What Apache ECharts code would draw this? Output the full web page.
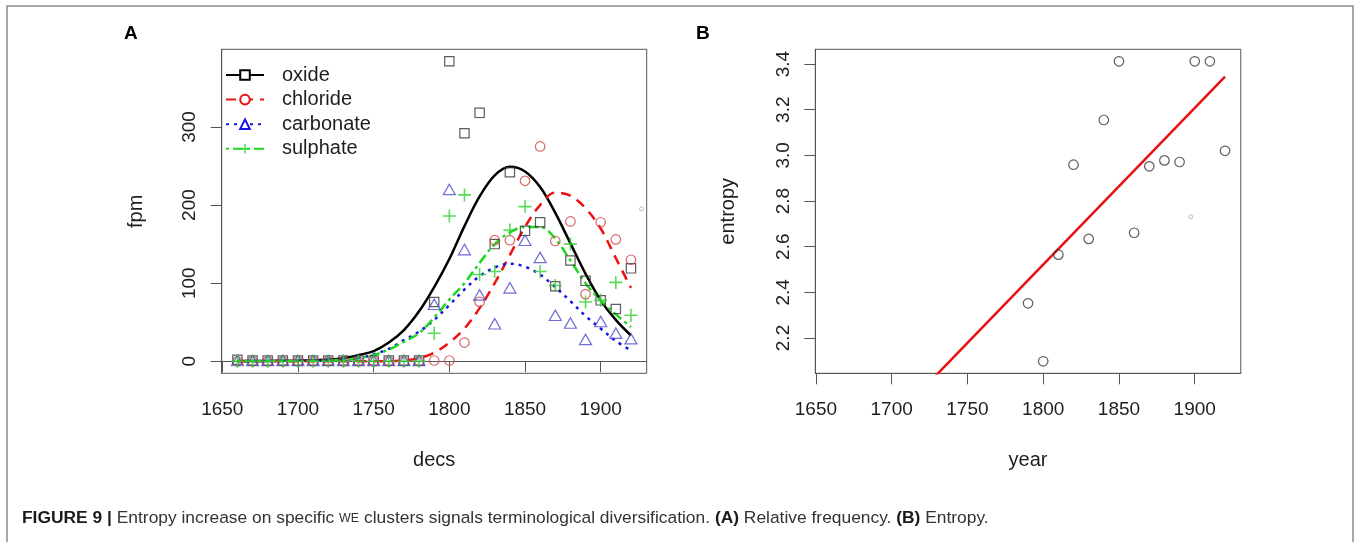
<!DOCTYPE html>
<html><head><meta charset="utf-8">
<script src="https://cdn.jsdelivr.net/npm/echarts@6/dist/echarts.min.js"></script>
<style>html,body{margin:0;padding:0;background:#fff}#c{width:1360px;height:542px}</style>
</head><body><div id="c"></div>
<script>
// ---- Panel A data ----
const decades = [1660,1670,1680,1690,1700,1710,1720,1730,1740,1750,1760,1770,1780,1790,1800,1810,1820,1830,1840,1850,1860,1870,1880,1890,1900,1910,1920];
const oxide     = [2,1,1,1,1,1,1,1,1,1,1,1,1, 76,384,292,318,150,242,167,178,96,129,103,78,67,119];
const chloride  = [0,0,0,0,0,0,0,0,0,0,0,0,0, 1,1,24,76,155,155,231,275,154,179,86,178,156,130];
const carbonate = [1,1,1,1,1,1,1,1,1,1,1,1,1, 73,220,143,85,48,94,155,133,59,49,28,51,36,29];
const sulphate  = [0,0,0,0,0,0,0,0,0,0,0,0,0, 36,186,213,111,115,168,198,115,97,150,76,78,101,59];
const oxideFit     = [0.3,0.4,0.5,0.7,1,1.4,2.2,4,8,13,24,40,64,95,131,173,211,238,249,243,223,190,151,112,78,53,33];
const chlorideFit  = [0,0,0,0,0,0,0,0,0,0,0,1,4,11,24,42,68,100,136,172,200,216,212,196,170,132,94];
const carbonateFit = [0.5,0.5,0.5,0.5,0.6,0.8,1.2,2,4,9,16,27,38,53,72,92,109,120,125,121,111,95,77,58,42,26,14];
const sulphateFit  = [0.5,0.5,0.5,0.5,0.5,0.7,1,2,4,8,15,25,36,56,79,100,126,150,165,172,172,157,129,100,78,60,44];
const strayA = [[1927,195]];
// ---- Panel B data ----
const years   = [1790,1800,1810,1820,1830,1840,1850,1860,1870,1880,1890,1900,1910,1920];
const entropy = [2.352,2.098,2.565,2.959,2.634,3.155,3.412,2.661,2.952,2.978,2.971,3.412,3.412,3.020];
const strayB = [[1897.4,2.731]];
// ---- ticks ----
const xTicks = [1650,1700,1750,1800,1850,1900];
const yTicksA = [0,100,200,300];
const yTicksB = [2.2,2.4,2.6,2.8,3.0,3.2,3.4];

const F = '"Liberation Sans", Arial, sans-serif';
const pair = (xs, ys) => xs.map((x,i)=>[x, ys[i]]);
const pad = (lo, hi) => { const d = (hi-lo)*0.04; return [lo-d, hi+d]; };
const xr = pad(decades[0], decades[decades.length-1]);
const allA = oxide.concat(chloride, carbonate, sulphate);
const yrA = pad(Math.min(...allA), Math.max(...allA));
const yrB = pad(Math.min(...entropy), Math.max(...entropy));

// least squares fit for panel B
const mx = years.reduce((a,b)=>a+b,0)/years.length;
const my = entropy.reduce((a,b)=>a+b,0)/entropy.length;
let sxy=0,sxx=0; years.forEach((x,i)=>{sxy+=(x-mx)*(entropy[i]-my); sxx+=(x-mx)*(x-mx);});
const slope = sxy/sxx;
const fitX = [decades[0], decades[decades.length-1]];
const fitB = fitX.map(x=>[x, my + slope*(x-mx)]);

const PLUS = 'path://M0,4.4 H10 V5.6 H0 Z M4.4,0 H5.6 V10 H4.4 Z';
const AX = '#555', TXT = '#1e1e1e';

function xAx(gi, name){
  return {type:'value', gridIndex:gi, min:xr[0], max:xr[1], name, nameLocation:'middle', nameGap:77,
    nameTextStyle:{fontSize:20, color:TXT, fontFamily:F},
    axisLine:{show:true, lineStyle:{color:AX, width:1}},
    axisTick:{show:true, length:11, lineStyle:{color:AX, width:1}, customValues:xTicks},
    axisLabel:{customValues:xTicks, fontSize:19, margin:27, color:TXT, fontFamily:F, formatter:v=>String(v)},
    splitLine:{show:false}};
}
function yAx(gi, name, rng, ticks, fmt, gap){
  return {type:'value', gridIndex:gi, min:rng[0], max:rng[1], name, nameLocation:'middle', nameGap:gap, nameRotate:90,
    nameTextStyle:{fontSize:20, color:TXT, fontFamily:F},
    axisLine:{show:true, lineStyle:{color:AX, width:1}},
    axisTick:{show:true, length:11, lineStyle:{color:AX, width:1}, customValues:ticks},
    axisLabel:{customValues:ticks, fontSize:19, margin:22, rotate:90, color:TXT, fontFamily:F, formatter:fmt},
    splitLine:{show:false}};
}
function fitLine(name, data, color, type, symbol, symSize){
  return {type:'line', name, xAxisIndex:0, yAxisIndex:0, data:pair(decades,data), smooth:0.35,
    showSymbol:false, symbol, symbolSize:symSize, silent:true,
    lineStyle:{color, width:2.5, type}, itemStyle:{color}, z:3};
}
function pts(name, data, color, symbol, size, filled){
  return {type:'scatter', name:name+'_pts', xAxisIndex:0, yAxisIndex:0, data:pair(decades,data), symbol, symbolSize:size, silent:true,
    itemStyle: filled ? {color} : {color:'rgba(0,0,0,0)', borderColor:color, borderWidth:1.2}, z:4};
}

const option = {
  animation:false,
  backgroundColor:'#fff',
  textStyle:{fontFamily:F},
  graphic:[{type:'rect', shape:{x:7, y:6, width:1346, height:560}, style:{fill:'none', stroke:'#8c8c8c', lineWidth:1.5}, silent:true}],
  title:[
    {text:'A', left:124, top:24, padding:0, textStyle:{fontSize:19, fontWeight:'bold', color:'#000', fontFamily:F}},
    {text:'B', left:696, top:24, padding:0, textStyle:{fontSize:19, fontWeight:'bold', color:'#000', fontFamily:F}},
    {text:'{b|FIGURE 9 |} Entropy increase on specific {sc|WE} clusters signals terminological diversification. {b|(A)} Relative frequency. {b|(B)} Entropy.',
     left:22, top:510, padding:0,
     textStyle:{fontSize:17.4, color:'#333', fontWeight:'normal', fontFamily:F,
       rich:{b:{fontSize:17.4, fontWeight:'bold', color:'#1a1a1a', fontFamily:F}, sc:{fontSize:12.5, color:'#333', fontFamily:F}}}}
  ],
  legend:{data:['oxide','chloride','carbonate','sulphate'], orient:'vertical', left:225, top:65, padding:0,
    itemWidth:38, itemHeight:12, itemGap:4.6, selectedMode:false,
    textStyle:{fontSize:20, color:TXT, fontFamily:F, padding:[0,0,0,13], lineHeight:20}},
  grid:[
    {left:221.7, top:49.3, width:425, height:324, show:true, borderColor:AX, borderWidth:1, backgroundColor:'transparent'},
    {left:815.3, top:49.3, width:425.5, height:324, show:true, borderColor:AX, borderWidth:1, backgroundColor:'transparent'}
  ],
  xAxis:[xAx(0,'decs'), xAx(1,'year')],
  yAxis:[yAx(0,'fpm',yrA,yTicksA,v=>String(v),75), yAx(1,'entropy',yrB,yTicksB,v=>v.toFixed(1),77)],
  series:[
    fitLine('oxide', oxideFit, '#000000', 'solid', 'emptyRect', 10),
    fitLine('chloride', chlorideFit, '#ee1111', [10,7], 'emptyCircle', 10),
    fitLine('carbonate', carbonateFit, '#1515e6', [3,5], 'emptyTriangle', 11),
    fitLine('sulphate', sulphateFit, '#1ed81e', [3,4,10,4], PLUS, 12),
    pts('oxide', oxide, '#333333', 'rect', 9.3, false),
    pts('chloride', chloride, '#cf4545', 'circle', 9.5, false),
    pts('carbonate', carbonate, '#4a4ac8', 'triangle', [12,10.5], false),
    pts('sulphate', sulphate, '#2fcf2f', PLUS, 13, true),
    {type:'scatter', name:'strayA', xAxisIndex:0, yAxisIndex:0, data:strayA, symbol:'circle', symbolSize:4, silent:true,
      itemStyle:{color:'rgba(0,0,0,0)', borderColor:'#b0b0b0', borderWidth:1}},
    {type:'line', name:'fitB', xAxisIndex:1, yAxisIndex:1, data:fitB, showSymbol:false, symbol:'none', clip:true, silent:true,
      lineStyle:{color:'#e81010', width:2.5}, z:3},
    {type:'scatter', name:'entropy', xAxisIndex:1, yAxisIndex:1, data:pair(years,entropy), symbol:'circle', symbolSize:9.5, silent:true,
      itemStyle:{color:'rgba(0,0,0,0)', borderColor:'#333', borderWidth:1.2}, z:4},
    {type:'scatter', name:'strayB', xAxisIndex:1, yAxisIndex:1, data:strayB, symbol:'circle', symbolSize:4, silent:true,
      itemStyle:{color:'rgba(0,0,0,0)', borderColor:'#b0b0b0', borderWidth:1}}
  ]
};
const chart = echarts.init(document.getElementById('c'), null, {renderer:'canvas'});
chart.setOption(option);
</script></body></html>
